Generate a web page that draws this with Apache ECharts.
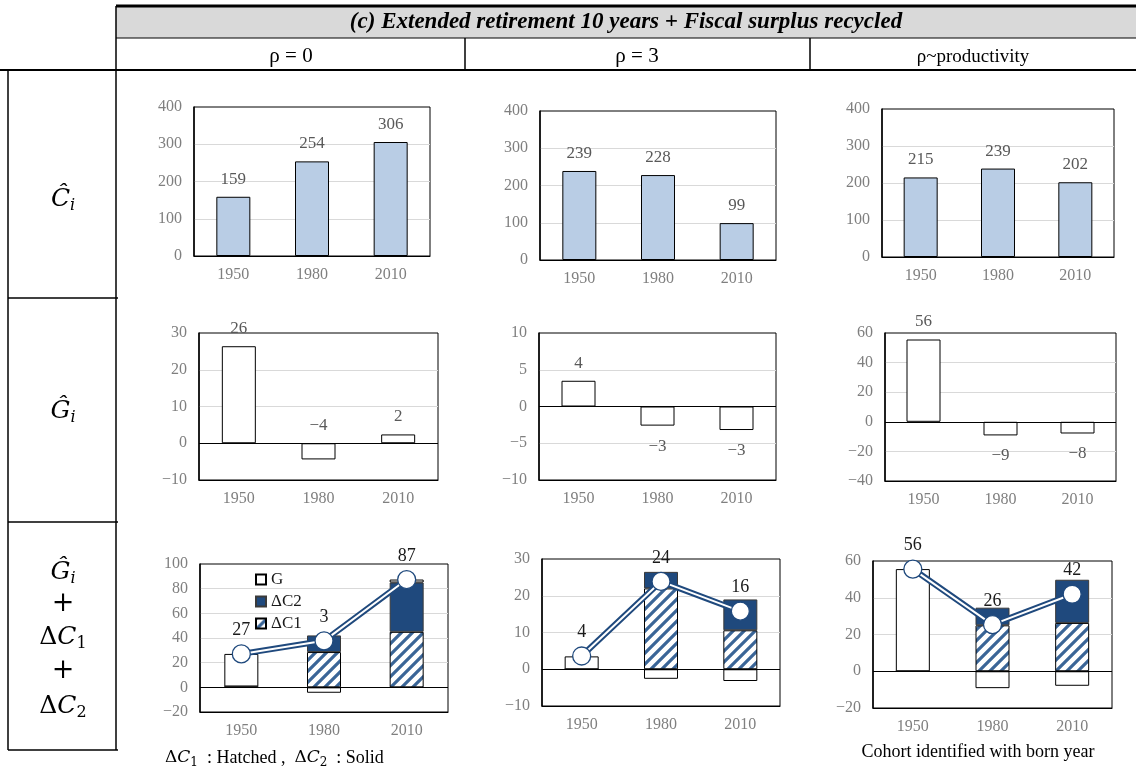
<!DOCTYPE html>
<html>
<head>
<meta charset="utf-8">
<script src="https://cdn.jsdelivr.net/npm/echarts@6/dist/echarts.min.js"></script>
<style>
html,body{margin:0;padding:0;background:#fff}
#main{width:1136px;height:771px}
</style>
</head>
<body>
<div id="main"></div>
<script>
// 横轴：出生年
var years = ['1950', '1980', '2010'];
var colTitles = ['ρ = 0', 'ρ = 3', 'ρ~productivity'];

// C hat  (ρ=0, ρ=3, ρ~productivity)
var cRho0 = [159, 254, 306];
var cRho3 = [239, 228, 99];
var cProd = [215, 239, 202];

// G hat
var gRho0 = [26.4, -4.4, 2.4];
var gRho3 = [3.5, -2.6, -3.2];
var gProd = [55.6, -9.2, -7.9];

// ΔC1 (hatched) / ΔC2 (solid)
var dc1Rho0 = [0.5, 28.6, 45];
var dc2Rho0 = [0.2, 13.5, 40];
var dc1Rho3 = [0, 22, 10.6];
var dc2Rho3 = [0, 4.5, 8.4];
var dc1Prod = [0, 25, 26.3];
var dc2Prod = [0, 9.6, 23.5];

// G + ΔC1 + ΔC2 (line)
var totRho0 = [27.1, 37.7, 87.4];
var totRho3 = [3.6, 23.9, 15.8];
var totProd = [55.6, 25.4, 41.9];
var totLabelRho0 = ['27', '3', '87'];
var totLabelRho3 = ['4', '24', '16'];
var totLabelProd = ['56', '26', '42'];

// y axis ticks  [min, max, interval]
var yTickC = [0, 400, 100];
var yTickG = [[-10, 30, 10], [-10, 10, 5], [-40, 60, 20]];
var yTickSum = [[-20, 100, 20], [-10, 30, 10], [-20, 60, 20]];

var cData = [cRho0, cRho3, cProd];
var gData = [gRho0, gRho3, gProd];
var dc1Data = [dc1Rho0, dc1Rho3, dc1Prod];
var dc2Data = [dc2Rho0, dc2Rho3, dc2Prod];
var totData = [totRho0, totRho3, totProd];
var totLabels = [totLabelRho0, totLabelRho3, totLabelProd];

var serif = "'Liberation Serif', 'DejaVu Serif', serif";
var mathFont = "'DejaVu Serif', serif";
var darkBlue = '#1f497d';
var minus = function (v) { return String(v).replace('-', '\u2212'); };

// 斜线填充
function makeHatch() {
	var s = 11;
	var cv = document.createElement('canvas');
	cv.width = s; cv.height = s;
	var ctx = cv.getContext('2d');
	ctx.fillStyle = '#fff';
	ctx.fillRect(0, 0, s, s);
	ctx.strokeStyle = '#3a6597';
	ctx.lineWidth = 3.2;
	ctx.beginPath();
	ctx.moveTo(-3, 3); ctx.lineTo(3, -3);
	ctx.moveTo(0, s); ctx.lineTo(s, 0);
	ctx.moveTo(s - 3, s + 3); ctx.lineTo(s + 3, s - 3);
	ctx.stroke();
	return cv;
}
var hatch = { image: makeHatch(), repeat: 'repeat' };

var gridPos = [
	{ left: 194, top: 107, width: 236, height: 149 },
	{ left: 540, top: 111, width: 236, height: 149 },
	{ left: 882, top: 109, width: 232, height: 148 },
	{ left: 199, top: 333, width: 239, height: 147 },
	{ left: 539, top: 333, width: 237, height: 147 },
	{ left: 885, top: 333, width: 231, height: 148 },
	{ left: 200, top: 564, width: 248, height: 148 },
	{ left: 542, top: 559, width: 238, height: 147 },
	{ left: 873, top: 561, width: 239, height: 147 }
];

var grids = [], xAxes = [], yAxes = [], series = [];
for (var i = 0; i < 9; i++) {
	var g = gridPos[i];
	grids.push({ left: g.left, top: g.top, width: g.width, height: g.height, show: true,
		borderColor: '#000', borderWidth: 1, backgroundColor: '#fff' });
	var tick = i < 3 ? yTickC : (i < 6 ? yTickG[i - 3] : yTickSum[i - 6]);
	xAxes.push({
		type: 'category', gridIndex: i, data: years,
		axisLine: { show: true, onZero: false, lineStyle: { color: '#000', width: 1 } },
		axisTick: { show: false },
		axisLabel: { color: '#7f7f7f', fontSize: 16, fontFamily: serif, margin: 11 }
	});
	yAxes.push({
		type: 'value', gridIndex: i, min: tick[0], max: tick[1], interval: tick[2],
		axisLine: { show: true, lineStyle: { color: '#000', width: 1.5 } },
		axisTick: { show: false },
		splitLine: { show: true, showMinLine: false, showMaxLine: false, lineStyle: { color: '#d9d9d9', width: 1 } },
		axisLabel: { color: '#7f7f7f', fontSize: 16, fontFamily: serif, margin: 12, formatter: minus }
	});
}

var zeroLine = {
	silent: true, symbol: ['none', 'none'], animation: false,
	label: { show: false },
	lineStyle: { color: '#000', width: 1, type: 'solid' },
	data: [{ yAxis: 0 }]
};

// 第一行：C hat
for (var c = 0; c < 3; c++) {
	series.push({
		type: 'bar', name: 'C', xAxisIndex: c, yAxisIndex: c, data: cData[c], barWidth: 34,
		itemStyle: { color: '#b9cde5', borderColor: '#000', borderWidth: 1 },
		label: { show: true, position: 'top', distance: 9, color: '#595959', fontSize: 17, fontFamily: serif }
	});
}

// 第二行：G hat
var negLabelAbove = [true, false, false];
for (var c = 0; c < 3; c++) {
	var items = gData[c].map(function (v) {
		var pos = v >= 0 || negLabelAbove[c] ? 'top' : 'bottom';
		return { value: v, label: { position: pos, distance: pos === 'top' ? 9 : 12 } };
	});
	series.push({
		type: 'bar', name: 'Ghat', xAxisIndex: 3 + c, yAxisIndex: 3 + c, data: items, barWidth: 34,
		itemStyle: { color: '#fff', borderColor: '#000', borderWidth: 1 },
		label: { show: true, color: '#595959', fontSize: 17, fontFamily: serif,
			formatter: function (p) { return minus(Math.round(p.value)); } },
		markLine: zeroLine
	});
}

// 第三行：G + ΔC1 + ΔC2
for (var c = 0; c < 3; c++) {
	var ax = 6 + c;
	var st = 'sum' + c;
	series.push({
		type: 'bar', name: 'ΔC1', stack: st, xAxisIndex: ax, yAxisIndex: ax, data: dc1Data[c], barWidth: 34,
		itemStyle: { color: hatch, borderColor: '#000', borderWidth: 1 }
	});
	series.push({
		type: 'bar', name: 'ΔC2', stack: st, xAxisIndex: ax, yAxisIndex: ax, data: dc2Data[c], barWidth: 34,
		itemStyle: { color: darkBlue, borderColor: '#3a3a3a', borderWidth: 1 }
	});
	series.push({
		type: 'bar', name: 'G', stack: st, xAxisIndex: ax, yAxisIndex: ax, data: gData[c], barWidth: 34,
		itemStyle: { color: '#fff', borderColor: '#000', borderWidth: 1 },
		markLine: zeroLine
	});
	series.push({
		type: 'line', name: 'sumOuter', xAxisIndex: ax, yAxisIndex: ax, data: totData[c],
		symbol: 'none', z: 5,
		lineStyle: { color: darkBlue, width: 6 }
	});
	(function (labels) {
		series.push({
			type: 'line', name: 'sumInner', xAxisIndex: ax, yAxisIndex: ax, data: totData[c],
			symbol: 'circle', symbolSize: 18, z: 6,
			lineStyle: { color: '#fff', width: 2 },
			itemStyle: { color: '#fff', borderColor: darkBlue, borderWidth: 1.3 },
			label: { show: true, position: 'top', distance: 5, color: '#1a1a1a', fontSize: 18, fontFamily: serif,
				formatter: function (p) { return labels[p.dataIndex]; } }
		});
	})(totLabels[c]);
}

// 表格线与文字
var L = function (x1, y1, x2, y2, w) {
	return { type: 'line', silent: true, z: 100, shape: { x1: x1, y1: y1, x2: x2, y2: y2 }, style: { stroke: '#000', lineWidth: w || 1 } };
};
var T = function (x, y, text, font, align, extra) {
	var s = { text: text, x: x, y: y, font: font, fill: '#000', textAlign: align || 'center', textVerticalAlign: 'middle' };
	if (extra) { for (var k in extra) s[k] = extra[k]; }
	return { type: 'text', silent: true, z: 101, style: s };
};
var mathRich = {
	d: { fontFamily: mathFont, fontSize: 25, lineHeight: 30, verticalAlign: 'middle' },
	c: { fontFamily: mathFont, fontStyle: 'italic', fontSize: 25, lineHeight: 30, verticalAlign: 'middle' },
	s: { fontFamily: mathFont, fontStyle: 'italic', fontSize: 16, lineHeight: 15, verticalAlign: 'bottom' },
	n: { fontFamily: mathFont, fontSize: 16, lineHeight: 15, verticalAlign: 'bottom' },
	p: { fontFamily: mathFont, fontSize: 27, lineHeight: 30, verticalAlign: 'middle' }
};
var capRich = {
	d: { fontFamily: mathFont, fontSize: 17, lineHeight: 22, verticalAlign: 'middle' },
	c: { fontFamily: mathFont, fontStyle: 'italic', fontSize: 17, lineHeight: 22, verticalAlign: 'middle' },
	n: { fontFamily: mathFont, fontSize: 12, lineHeight: 12, verticalAlign: 'bottom' },
	t: { fontFamily: serif, fontSize: 18, lineHeight: 22, verticalAlign: 'middle' }
};

var graphics = [
	{ type: 'rect', silent: true, z: 99, shape: { x: 116, y: 6, width: 1020, height: 32 }, style: { fill: '#d9d9d9' } },
	L(116, 6, 1136, 6, 3),
	L(116, 38, 1136, 38, 1),
	L(465, 38, 465, 70, 1.5),
	L(810, 38, 810, 70, 1.5),
	L(0, 70, 1136, 70, 2),
	L(116, 6, 116, 750, 1.5),
	L(8, 70, 8, 750, 1.5),
	L(8, 298, 118, 298, 1.5),
	L(8, 522, 118, 522, 1.5),
	L(8, 750, 118, 750, 1.5),
	T(626, 22, '(c) Extended retirement 10 years + Fiscal surplus recycled', 'italic bold 23px ' + serif),
	T(291, 56, colTitles[0], '21px ' + serif),
	T(637, 56, colTitles[1], '21px ' + serif),
	T(973, 57, colTitles[2], '19px ' + serif),
	T(63, 199, '{c|Ĉ}{s|i}', '', 'center', { rich: mathRich }),
	T(63, 411, '{c|Ĝ}{s|i}', '', 'center', { rich: mathRich }),
	T(63, 572, '{c|Ĝ}{s|i}', '', 'center', { rich: mathRich }),
	T(63, 604, '{p|+}', '', 'center', { rich: mathRich }),
	T(63, 637, '{d|Δ}{c|C}{n|1}', '', 'center', { rich: mathRich }),
	T(63, 671, '{p|+}', '', 'center', { rich: mathRich }),
	T(63, 706, '{d|Δ}{c|C}{n|2}', '', 'center', { rich: mathRich }),
	T(165, 758, '{d|Δ}{c|C}{n|1}{t|  : Hatched ,  }{d|Δ}{c|C}{n|2}{t|  : Solid}', '', 'left', { rich: capRich }),
	T(978, 752, 'Cohort identified with born year', '18px ' + serif)
];

var option = {
	animation: false,
	textStyle: { fontFamily: serif },
	grid: grids,
	xAxis: xAxes,
	yAxis: yAxes,
	legend: {
		data: ['G', 'ΔC2', 'ΔC1'],
		orient: 'vertical', left: 250, top: 566,
		icon: 'rect', itemWidth: 10, itemHeight: 10, itemGap: 5,
		selectedMode: false,
		textStyle: { fontSize: 17, color: '#1a1a1a', fontFamily: serif }
	},
	series: series,
	graphic: graphics
};

var myChart = echarts.init(document.getElementById('main'));
myChart.setOption(option);
</script>
</body>
</html>
